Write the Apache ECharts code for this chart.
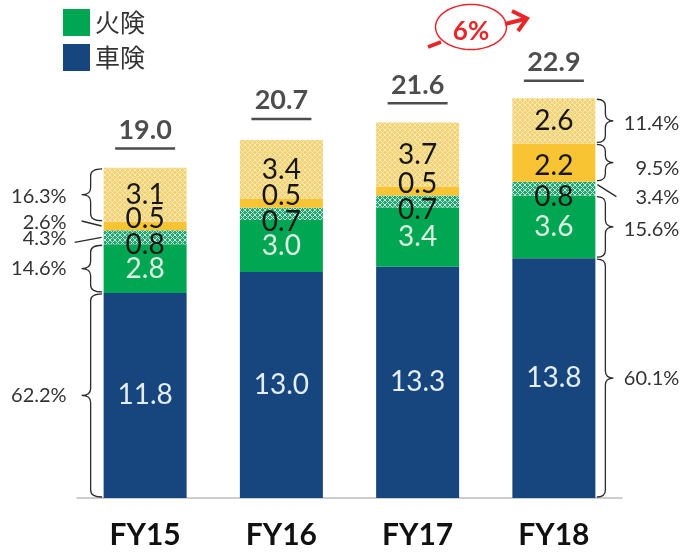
<!DOCTYPE html>
<html>
<head>
<meta charset="utf-8">
<script src="https://cdn.jsdelivr.net/npm/echarts@6/dist/echarts.min.js"></script>
<style>
  html, body { margin: 0; padding: 0; background: #ffffff; }
  #chart { width: 682px; height: 556px; }
</style>
</head>
<body>
<div id="chart"></div>
<script>
// ---- values (bottom-up stack order) ----
const categories = ['FY15', 'FY16', 'FY17', 'FY18'];
const carValues = [11.8, 13.0, 13.3, 13.8];        // 車険
const fireValues = [2.8, 3.0, 3.4, 3.6];           // 火険
const fireHatchValues = [0.8, 0.7, 0.7, 0.8];
const otherSolidValues = [0.5, 0.5, 0.5, 2.2];
const otherHatchValues = [3.1, 3.4, 3.7, 2.6];
const totals = [19.0, 20.7, 21.6, 22.9];
const shareFirst = ['62.2%', '14.6%', '4.3%', '2.6%', '16.3%'];  // FY15 segment shares
const shareLast = ['60.1%', '15.6%', '3.4%', '9.5%', '11.4%'];   // FY18 segment shares
const growthText = '6%';

// ---- styling ----
const FONT = 'Lato, "Open Sans", sans-serif';
const BAR_W = 83;
const BLUE = '#17467f';
const GREEN = '#00a651';
const YELLOW = '#f8c433';

function makePattern(base, line, size) {
  const c = document.createElement('canvas');
  c.width = size; c.height = size;
  const g = c.getContext('2d');
  g.fillStyle = base;
  g.fillRect(0, 0, size, size);
  g.strokeStyle = line;
  g.lineWidth = 1;
  g.beginPath();
  g.moveTo(0, 0); g.lineTo(size, size);
  g.moveTo(size, 0); g.lineTo(0, size);
  g.stroke();
  return { image: c, repeat: 'repeat' };
}
const yellowHatch = makePattern('#f1d275', '#fae8b2', 5);
const greenHatch = makePattern('#23a472', '#bfe9d4', 5);

const segments = [carValues, fireValues, fireHatchValues, otherSolidValues, otherHatchValues];

// Layout of the share annotations for each segment (brace or leader line)
const leftLayout = [
  { kind: 'brace', textDy: 0 },
  { kind: 'brace', textDy: 0 },
  { kind: 'line', startDy: 0, endDy: 5, endDx: 29, textDy: 1 },
  { kind: 'line', startDy: 0, endDy: -5, endDx: 22, textDy: -3 },
  { kind: 'brace', textDy: 2 }
];
const rightLayout = [
  { kind: 'brace', textDy: 0 },
  { kind: 'brace', textDy: 3 },
  { kind: 'line', startDy: -4, endDy: 8, endDx: 21, textDy: 9 },
  { kind: 'brace', textDy: 6 },
  { kind: 'brace', textDy: 3 }
];

// Build annotation items: [categoryIndex, low, high, segmentIndex]
const annotationData = [];
[0, categories.length - 1].forEach(function (ci) {
  let acc = 0;
  segments.forEach(function (arr, si) {
    annotationData.push([ci, acc, acc + arr[ci], si]);
    acc += arr[ci];
  });
});

function bracePath(edge, s, y1, y2, spineOff, tipOff) {
  const xe = edge + s * 1.5;
  const xs = edge + s * spineOff;
  const xt = edge + s * tipOff;
  const a = y1 + 1, b = y2 - 1;
  const ym = (a + b) / 2;
  const r = Math.min(7, (b - a) / 4);
  return 'M' + xe + ' ' + a +
    ' Q' + xs + ' ' + a + ' ' + xs + ' ' + (a + r) +
    ' L' + xs + ' ' + (ym - r) +
    ' Q' + xs + ' ' + ym + ' ' + xt + ' ' + ym +
    ' Q' + xs + ' ' + ym + ' ' + xs + ' ' + (ym + r) +
    ' L' + xs + ' ' + (b - r) +
    ' Q' + xs + ' ' + b + ' ' + xe + ' ' + b;
}

function renderShare(params, api) {
  const ci = api.value(0);
  const low = api.value(1);
  const high = api.value(2);
  const si = api.value(3);
  const pLow = api.coord([ci, low]);
  const pHigh = api.coord([ci, high]);
  const s = ci === 0 ? -1 : 1;
  const edge = pLow[0] + s * BAR_W / 2;
  const y1 = pHigh[1], y2 = pLow[1];
  const ym = (y1 + y2) / 2;
  const layout = (s < 0 ? leftLayout : rightLayout)[si];
  const text = (s < 0 ? shareFirst : shareLast)[si];
  const children = [];
  const lineStyle = { stroke: '#2b2b2b', fill: null, lineWidth: 1.3 };
  if (layout.kind === 'brace') {
    children.push({
      type: 'path',
      shape: { pathData: bracePath(edge, s, y1, y2, s < 0 ? 13 : 10, s < 0 ? 22 : 18) },
      style: lineStyle
    });
  } else {
    children.push({
      type: 'line',
      shape: {
        x1: edge + s * 2, y1: ym + layout.startDy,
        x2: edge + s * layout.endDx, y2: ym + layout.endDy
      },
      style: lineStyle
    });
  }
  children.push({
    type: 'text',
    style: {
      text: text,
      x: s < 0 ? edge - 37 : edge + 84,
      y: ym + layout.textDy,
      align: 'right',
      verticalAlign: 'middle',
      fontSize: 20,
      fontFamily: FONT,
      fill: '#333333'
    }
  });
  return { type: 'group', children: children };
}

const valueFormatter = function (p) {
  const v = typeof p.value === 'number' ? p.value : p.data.value;
  return v.toFixed(1);
};
const darkLabel = { show: true, position: 'inside', color: '#161616', fontSize: 28, fontFamily: FONT,
  formatter: valueFormatter };
const lightLabel = function (col) {
  return { show: true, position: 'inside', color: col, fontSize: 28, fontFamily: FONT,
    formatter: valueFormatter };
};

const chart = echarts.init(document.getElementById('chart'), null, { renderer: 'canvas' });
chart.setOption({
  animation: false,
  backgroundColor: '#ffffff',
  legend: {
    data: ['火険', '車険'],
    orient: 'vertical',
    left: 58,
    top: 4,
    itemWidth: 27,
    itemHeight: 27,
    itemGap: 8,
    icon: 'rect',
    selectedMode: false,
    textStyle: { fontSize: 25, color: '#333333', fontFamily: '"Noto Sans CJK JP", sans-serif' }
  },
  grid: { left: 77, right: 60, top: 63.5, bottom: 58, containLabel: false },
  xAxis: {
    type: 'category',
    data: categories,
    axisLine: { lineStyle: { color: '#bdbdbd', width: 1.5 } },
    axisTick: { inside: true, length: 8, lineStyle: { color: '#bdbdbd', width: 1.5 } },
    axisLabel: { fontSize: 30, fontWeight: 'bold', color: '#111111', fontFamily: FONT, margin: 22 }
  },
  yAxis: { type: 'value', min: 0, max: 25, show: false },
  series: [
    {
      name: '車険', type: 'bar', stack: 'total', barWidth: BAR_W,
      data: carValues, itemStyle: { color: BLUE },
      label: lightLabel('#e3eef9')
    },
    {
      name: '火険', type: 'bar', stack: 'total', barWidth: BAR_W,
      data: fireValues, itemStyle: { color: GREEN },
      label: lightLabel('#dcf2e4')
    },
    {
      name: 'fireHatch', type: 'bar', stack: 'total', barWidth: BAR_W,
      data: fireHatchValues, itemStyle: { color: greenHatch },
      label: Object.assign({}, darkLabel, { offset: [0, 8] })
    },
    {
      name: 'otherSolid', type: 'bar', stack: 'total', barWidth: BAR_W,
      data: otherSolidValues.map(function (v) {
        return { value: v, label: { offset: v < 1 ? [0, -7] : [0, 3] } };
      }),
      itemStyle: { color: YELLOW },
      label: darkLabel
    },
    {
      name: 'otherHatch', type: 'bar', stack: 'total', barWidth: BAR_W,
      data: otherHatchValues, itemStyle: { color: yellowHatch },
      label: darkLabel
    },
    {
      name: 'total', type: 'scatter', symbolSize: 0,
      data: totals.map(function (v, i) { return [i, v]; }),
      label: {
        show: true, position: 'top', distance: 18,
        formatter: function (p) { return '{v|' + p.value[1].toFixed(1) + '}\n{u|}'; },
        rich: {
          v: { fontSize: 27, fontWeight: 'bold', color: '#231f20', fontFamily: FONT, lineHeight: 34, align: 'center' },
          u: { width: 60, height: 2.5, backgroundColor: '#231f20', align: 'center' }
        }
      },
      z: 5
    },
    {
      name: 'shares', type: 'custom',
      renderItem: renderShare,
      data: annotationData,
      clip: false,
      encode: { x: 0, y: [1, 2] },
      z: 6
    }
  ],
  graphic: (function () {
    const cx = 471, cy = 27, rx = 35.5, ry = 22.5;
    const pts = [];
    for (let k = 0; k <= 72; k++) {
      const t = k / 72 * Math.PI * 2;
      pts.push([cx + rx * Math.cos(t), cy + ry * Math.sin(t)]);
    }
    const red = '#e8262a';
    return [
      { type: 'polyline', shape: { points: pts }, style: { stroke: red, lineWidth: 1.5, fill: null } },
      { type: 'line', shape: { x1: 428, y1: 47, x2: 441, y2: 42 }, style: { stroke: red, lineWidth: 4 } },
      { type: 'line', shape: { x1: 505, y1: 24, x2: 527, y2: 18.5 }, style: { stroke: red, lineWidth: 4 } },
      { type: 'polyline', shape: { points: [[512, 11], [527, 18.5], [518, 31]] }, style: { stroke: red, lineWidth: 4, fill: null, lineJoin: 'miter' } },
      { type: 'text', style: { text: growthText, x: cx, y: 32, align: 'center', verticalAlign: 'middle',
        fontSize: 26, fontWeight: 'bold', fontFamily: FONT, fill: red } }
    ];
  })()
});
</script>
</body>
</html>
